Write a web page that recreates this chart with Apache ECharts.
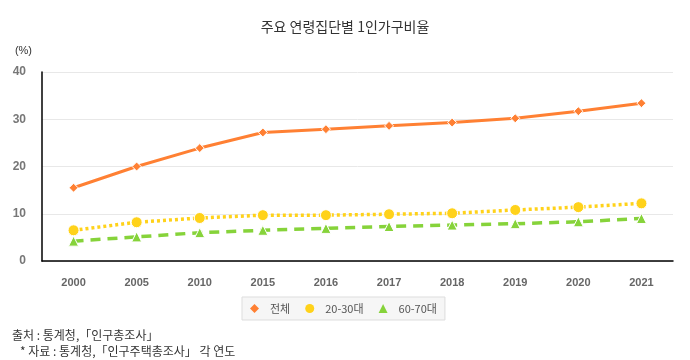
<!DOCTYPE html>
<html><head><meta charset="utf-8">
<script src="https://cdn.jsdelivr.net/npm/echarts@6/dist/echarts.min.js"></script>
<style>html,body{margin:0;padding:0;background:#fff}#c{width:690px;height:360px}</style>
</head><body><div id="c"></div>
<script>
const categories = ['2000','2005','2010','2015','2016','2017','2018','2019','2020','2021'];
const total = [15.5, 20.0, 23.9, 27.2, 27.9, 28.6, 29.3, 30.2, 31.7, 33.4];
const age2030 = [6.5, 8.2, 9.1, 9.7, 9.7, 9.9, 10.1, 10.8, 11.4, 12.2];
const age6070 = [4.2, 5.1, 6.0, 6.5, 6.9, 7.3, 7.6, 7.9, 8.3, 9.0];
const yTicks = [0, 10, 20, 30, 40];
const seriesNames = ['전체', '20-30대', '60-70대'];

const font = '"Noto Sans CJK KR", "Noto Sans", sans-serif';
const latin = 'Arial, "Liberation Sans", sans-serif';
const chart = echarts.init(document.getElementById('c'));
chart.setOption({
  animation: false,
  textStyle: { fontFamily: font },
  title: {
    text: '주요 연령집단별 1인가구비율', left: 'center', top: 15,
    textStyle: { fontSize: 14, fontWeight: 'normal', color: '#333', fontFamily: font }
  },
  grid: { left: 42, right: 17, top: 72, bottom: 99 },
  legend: {
    data: [
      { name: seriesNames[0], icon: 'diamond', itemStyle: { borderWidth: 0 } },
      { name: seriesNames[1], icon: 'circle', itemStyle: { borderWidth: 0 } },
      { name: seriesNames[2], icon: 'triangle', itemStyle: { borderWidth: 0 } }
    ],
    left: 242, top: 297, itemWidth: 9, itemHeight: 9, itemGap: 15,
    padding: [6, 8, 6, 8],
    backgroundColor: '#f6f6f6', borderColor: '#dddddd', borderWidth: 1,
    textStyle: { fontSize: 11, color: '#555', fontFamily: font, padding: [0, 0, 0, 6] }
  },
  xAxis: {
    type: 'category', data: categories, boundaryGap: true,
    axisLine: { lineStyle: { color: '#000', width: 1.5 } },
    axisTick: { show: false },
    axisLabel: { color: '#666', fontSize: 11, fontWeight: 'bold', margin: 16, fontFamily: latin }
  },
  yAxis: {
    type: 'value', min: yTicks[0], max: yTicks[yTicks.length - 1], interval: 10,
    name: '(%)', nameLocation: 'end', nameGap: 16,
    nameTextStyle: { color: '#333', fontSize: 11, align: 'right', padding: [0, 10, 0, 0], fontFamily: latin },
    axisLine: { show: true, lineStyle: { color: '#000', width: 1.5 } },
    axisTick: { show: false },
    splitLine: { lineStyle: { color: '#e8e8e8' } },
    axisLabel: { color: '#777', fontSize: 12, margin: 16, fontWeight: 'bold', fontFamily: latin }
  },
  series: [
    {
      name: seriesNames[0], type: 'line', data: total,
      symbol: 'diamond', symbolSize: 9,
      lineStyle: { color: '#ff8033', width: 3, type: 'solid' },
      itemStyle: { color: '#ff8033', borderColor: '#fff', borderWidth: 1 }
    },
    {
      name: seriesNames[1], type: 'line', data: age2030,
      symbol: 'circle', symbolSize: 11,
      lineStyle: { color: '#ffd21a', width: 3.5, type: [3, 3] },
      itemStyle: { color: '#ffd21a', borderColor: '#fff', borderWidth: 1 }
    },
    {
      name: seriesNames[2], type: 'line', data: age6070,
      symbol: 'triangle', symbolSize: 10,
      lineStyle: { color: '#86d33a', width: 3.5, type: [10, 7] },
      itemStyle: { color: '#86d33a', borderColor: '#fff', borderWidth: 1 }
    }
  ],
  graphic: [
    { type: 'text', left: 12, top: 329, style: { text: '출처 : 통계청,「인구총조사」', fill: '#333', font: '12px ' + font } },
    { type: 'text', left: 20, top: 345, style: { text: '* 자료 : 통계청,「인구주택총조사」 각 연도', fill: '#333', font: '12px ' + font } }
  ]
});
</script></body></html>
